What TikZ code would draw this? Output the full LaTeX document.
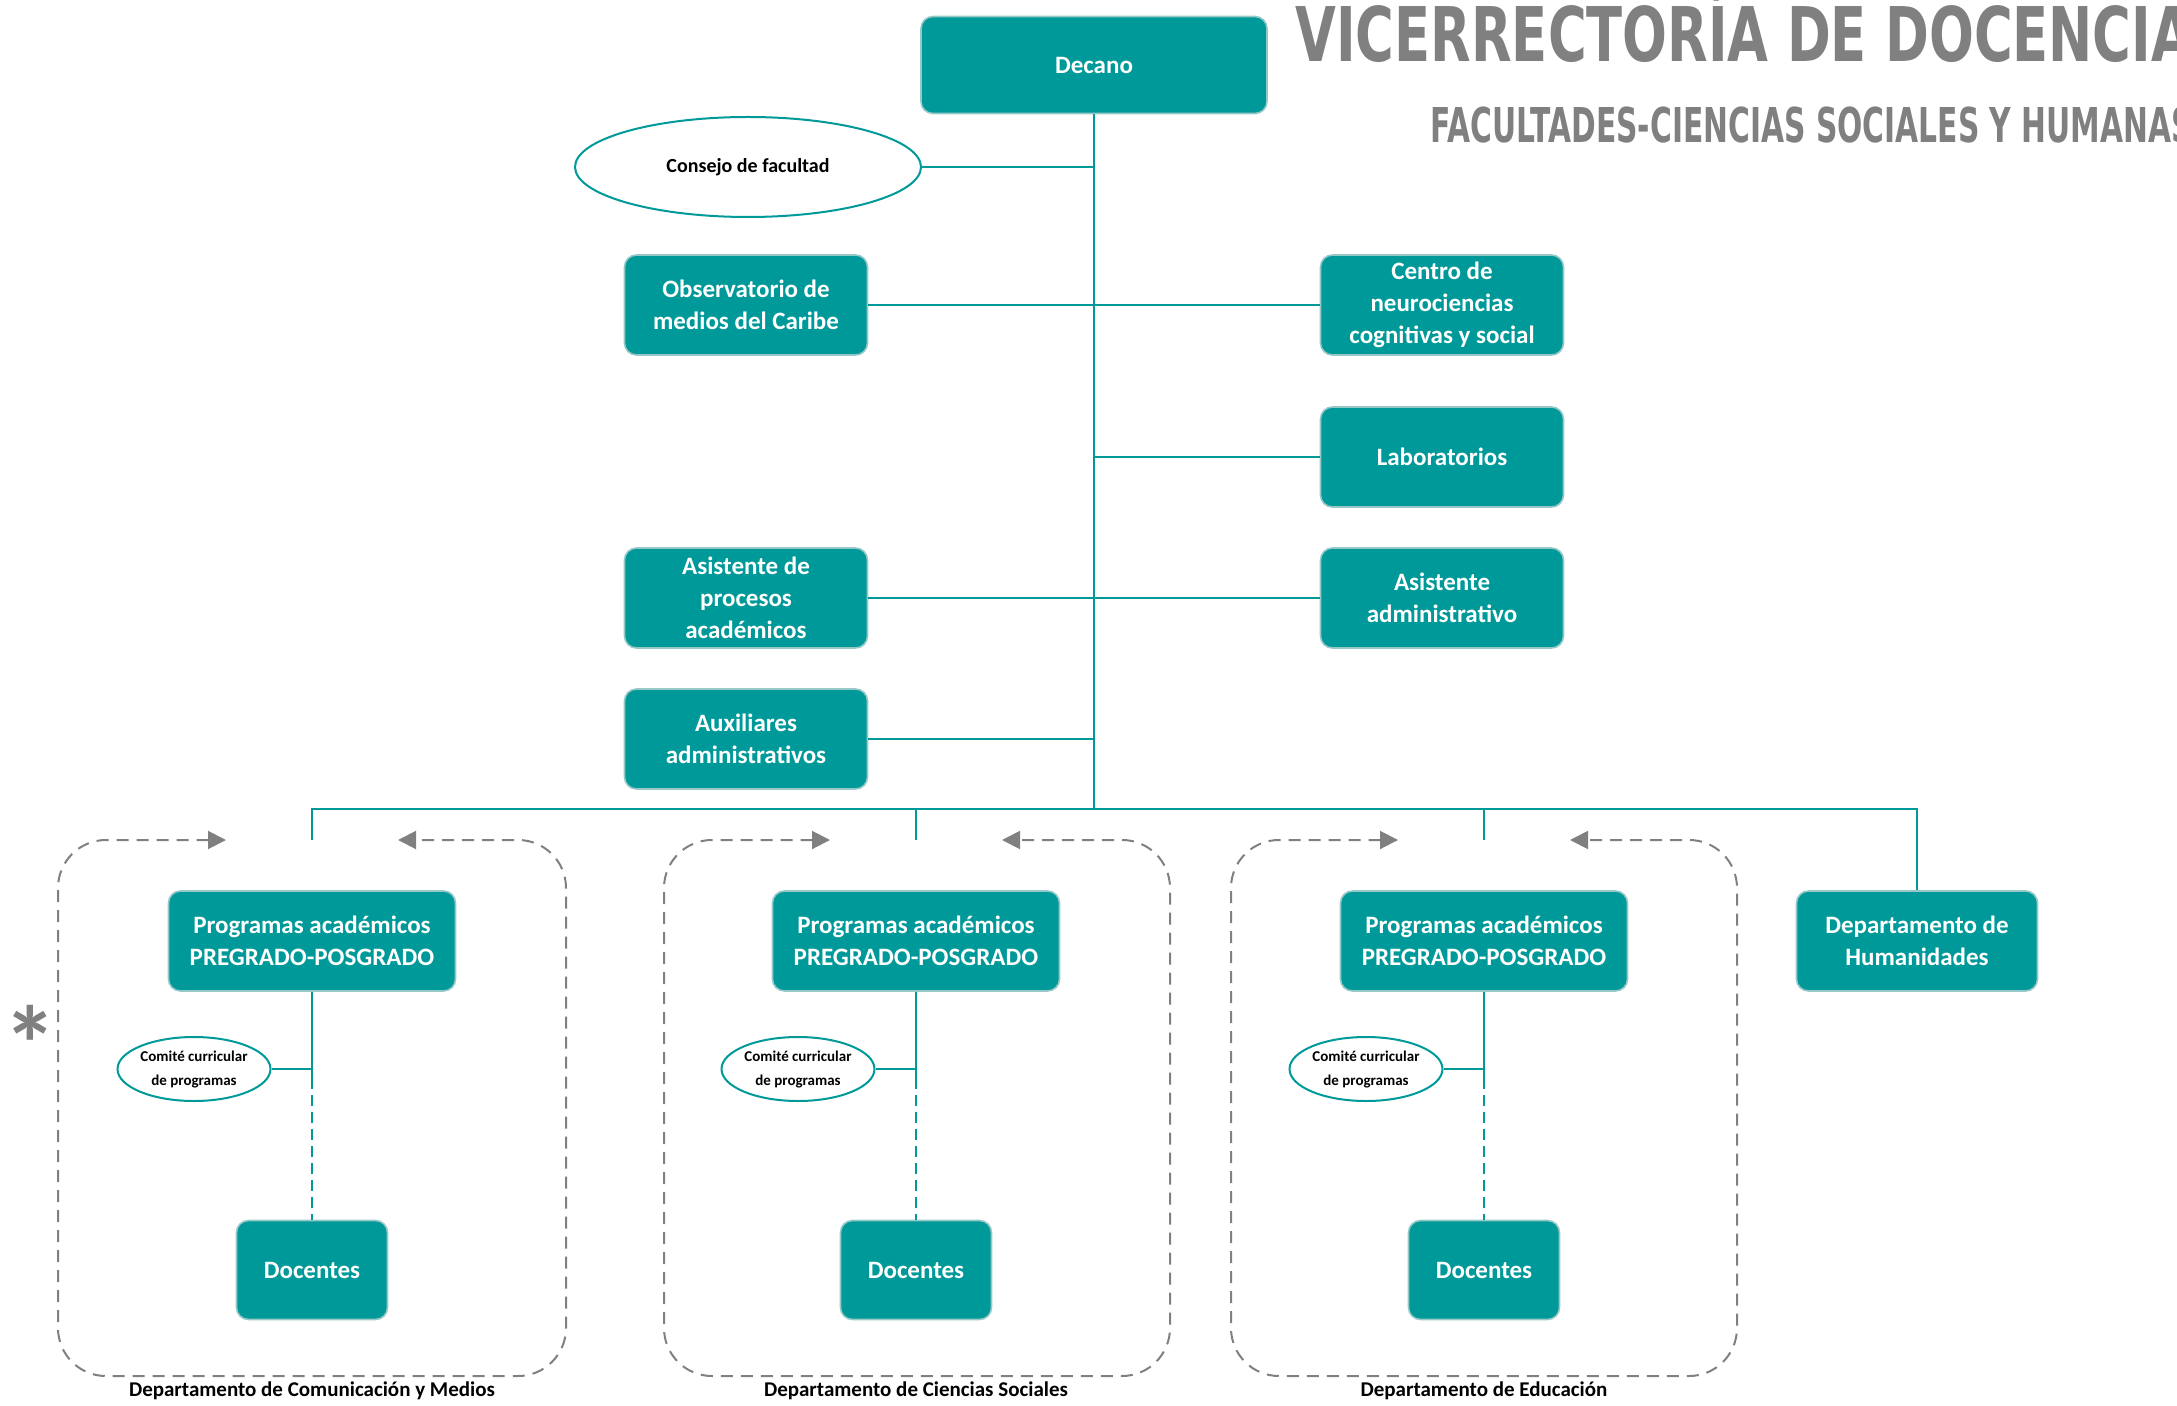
\documentclass[tikz,border=0pt]{standalone}
\usepackage{fontspec}
\setmainfont{Carlito}
\newfontfamily\titlefont[FakeStretch=0.70]{DejaVu Sans}
\newfontfamily\subtitlefont[FakeStretch=0.62]{DejaVu Sans}
\usetikzlibrary{shapes.geometric,arrows.meta}
\definecolor{tealbox}{RGB}{0,153,153}
\definecolor{tealedge}{RGB}{150,200,200}
\definecolor{titlegray}{RGB}{128,128,128}
\definecolor{framegray}{RGB}{128,128,128}

\begin{document}
\begin{tikzpicture}[
        x=0.5pt,
        y=-0.5pt,
        every node/.style={font=\bfseries},
        box/.style={
            rectangle,
            rounded corners=6pt,
            draw=tealedge,
            line width=0.8pt,
            fill=tealbox,
            text=white,
            align=center,
            inner sep=2pt,
            minimum width=121.5pt,
            minimum height=50pt,
            font=\bfseries\fontsize{12.5}{16}\selectfont
        },
        oval/.style={
            ellipse,
            draw=tealbox,
            line width=1pt,
            fill=white,
            inner sep=0pt,
            align=center
        },
        link/.style={draw=tealbox, line width=1.1pt},
        dashlink/.style={link, dash pattern=on 5.5pt off 3pt},
        frame/.style={
            draw=framegray,
            line width=1pt,
            dash pattern=on 6pt off 4pt,
            rounded corners=24pt,
            {Triangle[length=9pt,width=9pt]}-{Triangle[length=9pt,width=9pt]}
        },
        deptlabel/.style={font=\bfseries\fontsize{10.5}{12}\selectfont}
    ]
    \useasboundingbox (0,0) rectangle (2177,1406);

    % Titulo
    \node[anchor=base west, inner sep=0, text=titlegray,
        font=\titlefont\bfseries\fontsize{37.7}{40}\selectfont] (titulo) at (1295,62) {VICERRECTORÍA DE DOCENCIA};
    \node[anchor=base west, inner sep=0, text=titlegray,
        font=\subtitlefont\bfseries\fontsize{24}{26}\selectfont] (subtitulo) at (1430,143) {FACULTADES-CIENCIAS SOCIALES Y HUMANAS};

    % Decanatura
    \node[box, minimum width=173pt, minimum height=48.5pt] (decano) at (1094,65) {Decano};
    \node[oval, minimum width=173pt, minimum height=50pt,
        font=\bfseries\fontsize{10}{12}\selectfont] (consejo) at (748,167) {Consejo de facultad};
    \node[box] (observatorio) at (746,305) {Observatorio de\\medios del Caribe};
    \node[box] (neuro) at (1442,305) {Centro de\\neurociencias\\cognitivas y social};
    \node[box] (laboratorios) at (1442,457) {Laboratorios};
    \node[box] (asisacad) at (746,598) {Asistente de\\procesos\\académicos};
    \node[box] (asisadmin) at (1442,598) {Asistente\\administrativo};
    \node[box] (auxiliares) at (746,739) {Auxiliares\\administrativos};

    \coordinate (bus) at (1094,809);
    \draw[link] (decano) -- (decano |- bus);
    \draw[link] (consejo) -- (consejo -| decano);
    \draw[link] (observatorio) -- (neuro);
    \draw[link] (laboratorios) -- (laboratorios -| decano);
    \draw[link] (asisacad) -- (asisadmin);
    \draw[link] (auxiliares) -- (auxiliares -| decano);

    % Departamentos
    \node[box, minimum width=143.5pt] (prog1) at (312,941) {Programas académicos\\PREGRADO-POSGRADO};
    \node[box, minimum width=143.5pt] (prog2) at (916,941) {Programas académicos\\PREGRADO-POSGRADO};
    \node[box, minimum width=143.5pt] (prog3) at (1484,941) {Programas académicos\\PREGRADO-POSGRADO};
    \node[box, minimum width=120.5pt] (humanidades) at (1917,941) {Departamento de\\Humanidades};

    \node[oval, minimum width=76.5pt, minimum height=32pt,
        font=\bfseries\fontsize{7.5}{12}\selectfont] (comite1) at (194,1069) {Comité curricular\\de programas};
    \node[oval, minimum width=76.5pt, minimum height=32pt,
        font=\bfseries\fontsize{7.5}{12}\selectfont] (comite2) at (798,1069) {Comité curricular\\de programas};
    \node[oval, minimum width=76.5pt, minimum height=32pt,
        font=\bfseries\fontsize{7.5}{12}\selectfont] (comite3) at (1366,1069) {Comité curricular\\de programas};

    \node[box, minimum width=75.5pt, minimum height=49.5pt] (docentes1) at (312,1270) {Docentes};
    \node[box, minimum width=75.5pt, minimum height=49.5pt] (docentes2) at (916,1270) {Docentes};
    \node[box, minimum width=75.5pt, minimum height=49.5pt] (docentes3) at (1484,1270) {Docentes};

    \coordinate (top1) at (312,840);
    \coordinate (top2) at (916,840);
    \coordinate (top3) at (1484,840);
    \draw[link] (top1) -- (top1 |- bus) -- (humanidades |- bus) -- (humanidades);
    \draw[link] (top2) -- (top2 |- bus);
    \draw[link] (top3) -- (top3 |- bus);

    \coordinate (mid1) at (312,1078);
    \coordinate (mid2) at (916,1078);
    \coordinate (mid3) at (1484,1078);
    \draw[link] (prog1) -- (mid1);
    \draw[dashlink] (mid1) -- (docentes1);
    \draw[link] (comite1) -- (comite1 -| prog1);
    \draw[link] (prog2) -- (mid2);
    \draw[dashlink] (mid2) -- (docentes2);
    \draw[link] (comite2) -- (comite2 -| prog2);
    \draw[link] (prog3) -- (mid3);
    \draw[dashlink] (mid3) -- (docentes3);
    \draw[link] (comite3) -- (comite3 -| prog3);

    % Marcos de departamento
    \draw[frame] (226,840) -- (58,840) -- (58,1376) -- (566,1376) -- (566,840) -- (398,840);
    \draw[frame] (830,840) -- (664,840) -- (664,1376) -- (1170,1376) -- (1170,840) -- (1002,840);
    \draw[frame] (1398,840) -- (1231,840) -- (1231,1376) -- (1737,1376) -- (1737,840) -- (1570,840);

    \node[deptlabel] (dep1) at (312,1391) {Departamento de Comunicación y Medios};
    \node[deptlabel] (dep2) at (916,1391) {Departamento de Ciencias Sociales};
    \node[deptlabel] (dep3) at (1484,1391) {Departamento de Educación};

    \node[anchor=base, inner sep=0, text=titlegray,
        font=\bfseries\fontsize{54}{54}\selectfont] (asterisco) at (30,1082) {*};
\end{tikzpicture}
\end{document}
